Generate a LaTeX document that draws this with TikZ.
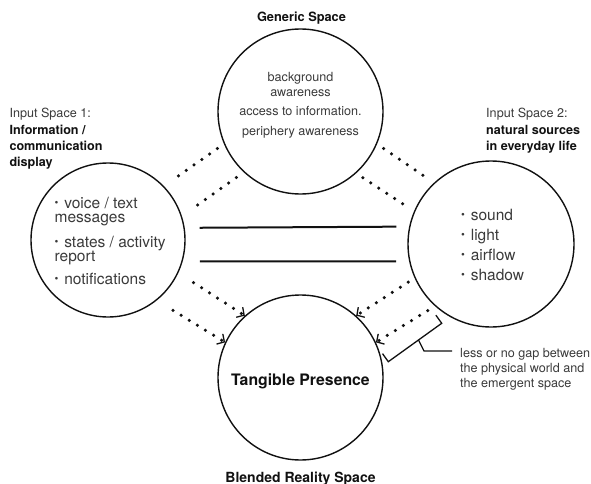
\documentclass[tikz,border=0pt]{standalone}
\usepackage{fontspec}
\setmainfont{TeX Gyre Heros}
\usetikzlibrary{arrows.meta}
\definecolor{txt}{HTML}{3A3A3A}
\definecolor{ink}{HTML}{111111}
\newcommand\bul{\makebox[0.62em][l]{\raisebox{0.12em}{\fontsize{11}{11}\selectfont\textbullet}}}

\begin{document}
\begin{tikzpicture}[x=1pt,y=-1pt,
  space/.style={circle, draw=ink, line width=1.4pt, inner sep=0pt},
  dots/.style={draw=ink, line width=3.5pt, line cap=round, dash pattern=on 0pt off 9.5pt},
  dotarrow/.style={dots, -{Straight Barb[length=5.5pt,width=12pt,line width=1.3pt]}},
  equal/.style={draw=ink, line width=2pt},
  small/.style={inner sep=0pt, text=txt, font=\fontsize{12.6}{16.2}\selectfont},
  title/.style={inner sep=0pt, text=ink, font=\bfseries\fontsize{12.8}{15}\selectfont},
  items/.style={inner sep=0pt, text=txt, align=left}
]
\useasboundingbox (0,0) rectangle (591,484);

% the four spaces
\node[space, minimum size=165pt] (G)  at (300.5,111.5) {};
\node[space, minimum size=154pt] (I1) at (108,240) {};
\node[space, minimum size=166pt] (I2) at (491,244) {};
\node[space, minimum size=165pt] (B)  at (300.5,377.5) {};

% titles (multi-line nodes are placed by the baseline of their last line)
\node[title, anchor=base] (gtitle) at (301.5,21.5) {Generic Space};
\node[title, anchor=base, font=\bfseries\fontsize{14}{16}\selectfont] (btitle) at (300.5,482.6) {Blended Reality Space};
\node[small, anchor=base west, align=left] (in1) at (9.3,166.4)
  {Input Space 1:\\{\color{ink}\bfseries Information /}\\{\color{ink}\bfseries communication}\\{\color{ink}\bfseries display}};
\node[small, anchor=base west, align=left] (in2) at (486,150.2)
  {Input Space 2:\\{\color{ink}\bfseries natural sources}\\{\color{ink}\bfseries in everyday life}};

% contents of the spaces
\node[small, anchor=base, align=center, font=\fontsize{12.6}{14.5}\selectfont] (gtext) at (300.5,135.5)
  {background\\awareness\\[4.8pt]access to information.\\[5.5pt]periphery awareness};
\node[items, anchor=base west, font=\fontsize{15.5}{14.5}\selectfont] (i1text) at (54.5,284.8)
  {\bul voice / text\\messages\\[8.8pt]\bul states / activity\\report\\[7.5pt]\bul notifications};
\node[items, anchor=base west, font=\fontsize{15.5}{20}\selectfont] (i2text) at (461,280.5)
  {\bul sound\\\bul light\\\bul airflow\\\bul shadow};
\node[anchor=base, inner sep=0pt, text=ink, font=\bfseries\fontsize{15.8}{18}\selectfont] (tp) at (300.5,385.7)
  {Tangible Presence};

% generic space to the input spaces
\draw[dots, shorten <=8pt, shorten >=11pt] (G.203) -- (I1.44);
\draw[dots, shorten <=9pt, shorten >=14pt] (G.227) -- (I1.18);
\draw[dots, shorten <=8pt, shorten >=5.5pt] (G.-23) -- (I2.133);
\draw[dots, shorten <=8pt, shorten >=7.6pt] (G.-48) -- (I2.157.5);

% cross-space mapping
\draw[equal, shorten <=15pt, shorten >=12.8pt] (I1.9.7) -- (I2.168.2);
\draw[equal, shorten <=17.2pt, shorten >=13pt] (I1.-16.6) -- (I2.192.5);

% projections into the blend
\draw[dotarrow, shorten <=18pt] (I1.-25) -- (B.132);
\draw[dotarrow, shorten <=19pt] (I1.-51) -- (B.155);
\draw[dotarrow, shorten <=7.5pt] (I2.204) -- (B.48);
\draw[dotarrow, shorten <=8.5pt] (I2.228) -- (B.25);

% bracket with its note
\draw[draw=ink, line width=1.3pt, line join=miter]
  (435.9,315.2) -- (441.7,323.3) -- (388.3,361.7) -- (382.5,353.6);
\coordinate (lead) at (452,351);
\draw[draw=ink, line width=1.3pt] (418.5,340) -- (424,351) -- (lead);
\node[small, anchor=base west, align=left, font=\fontsize{12.6}{15}\selectfont] (note) at (460,387.8)
  {less or no gap between\\the physical world and\\the emergent space};
\end{tikzpicture}
\end{document}
